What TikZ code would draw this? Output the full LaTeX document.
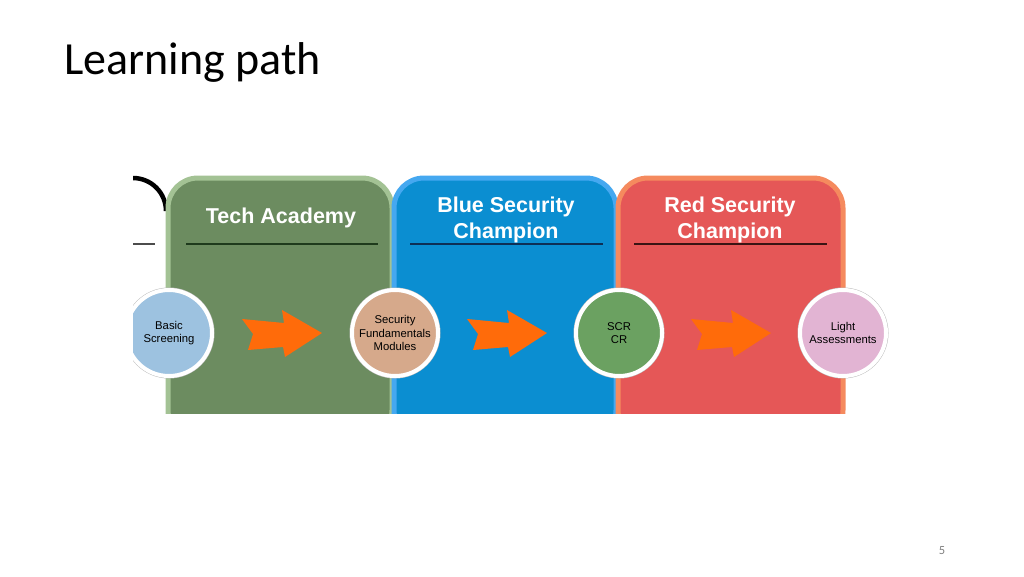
\documentclass[tikz,border=0pt]{standalone}
\usepackage{fontspec}
\setmainfont{Liberation Sans}
\newfontfamily\titlefont{Carlito}
\usetikzlibrary{positioning,calc}

\definecolor{techrim}{HTML}{A3C294}
\definecolor{techfill}{HTML}{6C8C60}
\definecolor{techline}{HTML}{1E3A1C}
\definecolor{bluerim}{HTML}{45A8F0}
\definecolor{bluefill}{HTML}{0B8ED1}
\definecolor{blueline}{HTML}{0E2F55}
\definecolor{redrim}{HTML}{F58A5E}
\definecolor{redfill}{HTML}{E55757}
\definecolor{redline}{HTML}{3A1414}
\definecolor{screenfill}{HTML}{9DC2E0}
\definecolor{fundfill}{HTML}{D6A98B}
\definecolor{scrfill}{HTML}{6BA161}
\definecolor{lightfill}{HTML}{E2B4D3}
\definecolor{chevorange}{HTML}{FF6B0A}

\tikzset{
  panel/.style={rounded corners=30pt, line width=5pt},
  heading/.style={text=white, align=center, font=\fontsize{21.5}{26}\selectfont\bfseries},
  rule/.style={line width=2pt},
  stage/.style={circle, minimum size=86pt, inner sep=0pt, align=center,
    draw=white, line width=4pt, text=black,
    font=\fontsize{11.3}{13.5}\selectfont,
    preaction={draw=black!25, line width=5pt}},
  chev/.style={fill=chevorange}
}

\begin{document}
\begin{tikzpicture}[x=1pt,y=-1pt]
  \useasboundingbox (0,0) rectangle (1024,576);

  \node[anchor=base west, inner sep=0pt, font=\titlefont\fontsize{46}{52}\selectfont] (title) at (64,74) {Learning path};
  \node[anchor=base, inner sep=0pt, text=black!50, font=\titlefont\fontsize{12.5}{14}\selectfont] (page) at (942,554) {5};

  \begin{scope}
    \clip (133,170) rectangle (895,413);

    % left over from the stage before
    \draw[line width=4.5pt] (133,178) arc (-90:0:33);
    \draw[line width=1.5pt, black!70] (133,244) -- (155,244);

    % the three panels
    \draw[panel, draw=techrim, fill=techfill] (168,178) rectangle (392,440);
    \draw[panel, draw=bluerim, fill=bluefill] (394,178) rectangle (616,440);
    \draw[panel, draw=redrim, fill=redfill] (618,178) rectangle (843,440);

    \node[heading] (tech) at (281,218) {Tech Academy};
    \node[heading] (blue) at (506,219.5) {Blue Security\\Champion};
    \node[heading] (red) at (730,219.5) {Red Security\\Champion};

    \draw[rule, techline] (186,244) -- (378,244);
    \draw[rule, blueline] (410,244) -- (603,244);
    \draw[rule, redline] (634,244) -- (827,244);

    % stages
    \node[stage, fill=screenfill] (basic) at (169,333) {Basic\\Screening};
    \node[stage, fill=fundfill] (fund) at (395,333) {Security\\Fundamentals\\Modules};
    \node[stage, fill=scrfill] (scr) at (619,333) {SCR\\CR};
    \node[stage, fill=lightfill] (light) at (843,333) {Light\\Assessments};

    \foreach \a/\b in {basic/fund, fund/scr, scr/light}
      \fill[chev, shift={($(\a)!.5!(\b)$)}]
        (-40,-14) -- (2,-10) -- (0,-23) -- (40,0) -- (3,24) -- (1,14)
        -- (-34,17) -- (-29,1) -- cycle;
  \end{scope}
\end{tikzpicture}
\end{document}
